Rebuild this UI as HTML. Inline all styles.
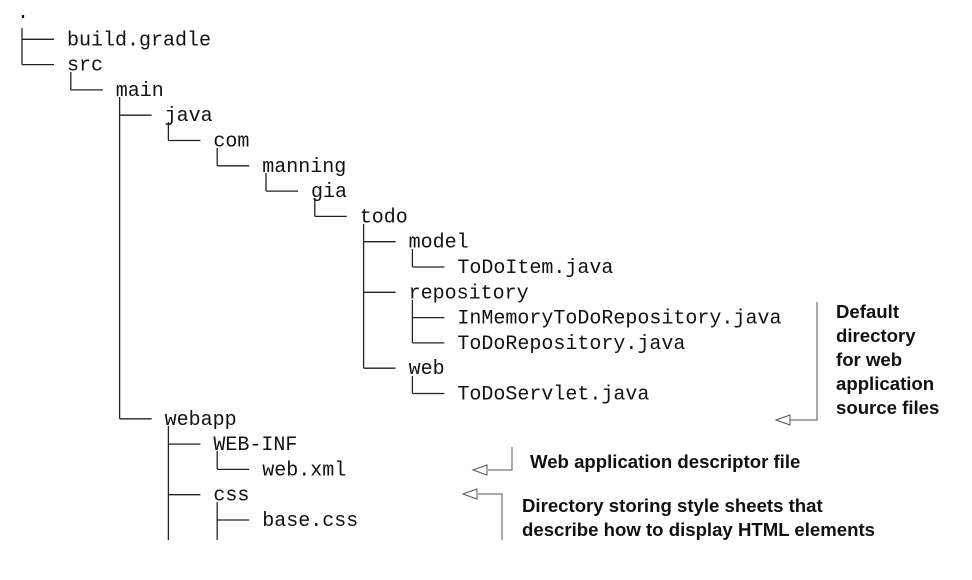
<!DOCTYPE html>
<html><head><meta charset="utf-8"><style>
html,body{margin:0;padding:0;background:#fff;}
svg{display:block}
.t{font-family:"Liberation Mono",monospace;font-size:20px;fill:#111}
.c{font-family:"Liberation Sans",sans-serif;font-weight:bold;font-size:18.6px;fill:#111}
</style></head><body>
<svg width="972" height="580" viewBox="0 0 972 580" xmlns="http://www.w3.org/2000/svg">
<g class="t">
<text x="17" y="18">.</text>
<text x="67" y="45.3">build.gradle</text>
<text x="67" y="70.6">src</text>
<text x="115.8" y="95.9">main</text>
<text x="164.6" y="121.2">java</text>
<text x="213.4" y="146.5">com</text>
<text x="262.2" y="171.8">manning</text>
<text x="311" y="197.1">gia</text>
<text x="359.8" y="222.4">todo</text>
<text x="408.6" y="247.7">model</text>
<text x="457.4" y="273">ToDoItem.java</text>
<text x="408.6" y="298.3">repository</text>
<text x="457.4" y="323.6">InMemoryToDoRepository.java</text>
<text x="457.4" y="348.9">ToDoRepository.java</text>
<text x="408.6" y="374.2">web</text>
<text x="457.4" y="399.5">ToDoServlet.java</text>
<text x="164.6" y="424.8">webapp</text>
<text x="213.4" y="450.1">WEB-INF</text>
<text x="262.2" y="475.4">web.xml</text>
<text x="213.4" y="500.7">css</text>
<text x="262.2" y="526">base.css</text>
</g>
<g stroke="#222" stroke-width="1.3" fill="none">
<line x1="22" y1="28" x2="22" y2="64.6"/>
<line x1="70.8" y1="72" x2="70.8" y2="89.9"/>
<line x1="119.6" y1="97" x2="119.6" y2="418.8"/>
<line x1="168.4" y1="122" x2="168.4" y2="140.5"/>
<line x1="217.2" y1="148" x2="217.2" y2="165.8"/>
<line x1="266" y1="173" x2="266" y2="191.1"/>
<line x1="314.8" y1="198" x2="314.8" y2="216.4"/>
<line x1="363.6" y1="224" x2="363.6" y2="368.2"/>
<line x1="412.4" y1="249" x2="412.4" y2="267"/>
<line x1="412.4" y1="300" x2="412.4" y2="342.9"/>
<line x1="412.4" y1="376" x2="412.4" y2="393.5"/>
<line x1="168.4" y1="426" x2="168.4" y2="540"/>
<line x1="217.2" y1="451" x2="217.2" y2="469.4"/>
<line x1="217.2" y1="502" x2="217.2" y2="540"/>
<line x1="22" y1="39.3" x2="54" y2="39.3"/>
<line x1="22" y1="64.6" x2="54" y2="64.6"/>
<line x1="70.8" y1="89.9" x2="102.8" y2="89.9"/>
<line x1="119.6" y1="115.2" x2="151.6" y2="115.2"/>
<line x1="168.4" y1="140.5" x2="200.4" y2="140.5"/>
<line x1="217.2" y1="165.8" x2="249.2" y2="165.8"/>
<line x1="266" y1="191.1" x2="298" y2="191.1"/>
<line x1="314.8" y1="216.4" x2="346.8" y2="216.4"/>
<line x1="363.6" y1="241.7" x2="395.6" y2="241.7"/>
<line x1="412.4" y1="267" x2="444.4" y2="267"/>
<line x1="363.6" y1="292.3" x2="395.6" y2="292.3"/>
<line x1="412.4" y1="317.6" x2="444.4" y2="317.6"/>
<line x1="412.4" y1="342.9" x2="444.4" y2="342.9"/>
<line x1="363.6" y1="368.2" x2="395.6" y2="368.2"/>
<line x1="412.4" y1="393.5" x2="444.4" y2="393.5"/>
<line x1="119.6" y1="418.8" x2="151.6" y2="418.8"/>
<line x1="168.4" y1="444.1" x2="200.4" y2="444.1"/>
<line x1="217.2" y1="469.4" x2="249.2" y2="469.4"/>
<line x1="168.4" y1="494.7" x2="200.4" y2="494.7"/>
<line x1="217.2" y1="520" x2="249.2" y2="520"/>
</g>
<g stroke="#555" stroke-width="1" fill="#fff">
<polyline points="817,302 817,420 790,420"/>
<polygon points="776,420 790,415 790,425"/>
<polyline points="512,447 512,470 488,470"/>
<polygon points="473,470 487,465 487,475"/>
<polyline points="502,540 502,494 478,494"/>
<polygon points="463,494 477,489 477,499"/>
</g>
<g class="c">
<text x="836" y="318">Default</text>
<text x="836" y="342">directory</text>
<text x="836" y="366">for web</text>
<text x="836" y="390">application</text>
<text x="836" y="414">source files</text>
<text x="530" y="468">Web application descriptor file</text>
<text x="522" y="512">Directory storing style sheets that</text>
<text x="522" y="536">describe how to display HTML elements</text>
</g>
</svg>
</body></html>
